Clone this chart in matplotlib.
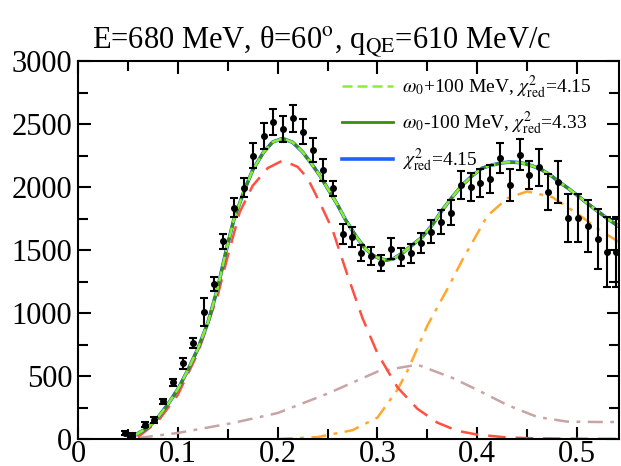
import matplotlib
matplotlib.use("Agg")
import matplotlib.pyplot as plt
import numpy as np

plt.rcParams['font.family'] = ['Liberation Serif', 'DejaVu Serif']
plt.rcParams['mathtext.fontset'] = 'stix'

# ---- data points (omega [GeV], cross section) ----
data_x = [0.047, 0.054, 0.067, 0.076, 0.085, 0.095, 0.105, 0.115, 0.126, 0.136,
          0.145, 0.156, 0.166, 0.175, 0.186, 0.195, 0.205, 0.215, 0.225, 0.235,
          0.245, 0.255, 0.265, 0.275, 0.284, 0.294, 0.304, 0.314, 0.324, 0.334,
          0.344, 0.354, 0.364, 0.374, 0.384, 0.394, 0.403, 0.413, 0.423, 0.433,
          0.443, 0.452, 0.462, 0.471, 0.481, 0.491, 0.501, 0.511, 0.521, 0.530,
          0.539]
data_y = [45, 30, 115, 150, 300, 450, 600, 760, 1010, 1230,
          1570, 1835, 1995, 2250, 2405, 2515, 2460, 2545, 2440, 2295,
          2135, 1990, 1630, 1600, 1475, 1450, 1395, 1510, 1445, 1475,
          1555, 1645, 1720, 1795, 2015, 2000, 2030, 2065, 2230, 2015,
          2255, 2095, 2155, 1960, 2040, 1755, 1755, 1690, 1590, 1485,
          1485]
data_err = [15, 15, 20, 25, 20, 30, 45, 40, 110, 55,
            60, 75, 75, 100, 100, 105, 100, 105, 100, 95,
            85, 60, 80, 80, 65, 70, 65, 85, 70, 75,
            80, 90, 95, 100, 110, 110, 112, 112, 120, 125,
            123, 112, 145, 145, 165, 190, 190, 205, 238, 278,
            280]

# ---- total fit curve ----
fit_x = [0.057, 0.07, 0.08, 0.09, 0.10, 0.11, 0.12, 0.13, 0.14, 0.148, 0.156,
         0.166, 0.175, 0.186, 0.195, 0.205, 0.215, 0.225, 0.233, 0.242, 0.250,
         0.259, 0.268, 0.279, 0.288, 0.296, 0.303, 0.309, 0.316, 0.325, 0.335,
         0.345, 0.355, 0.365, 0.375, 0.385, 0.395, 0.405, 0.415, 0.425, 0.433,
         0.440, 0.448, 0.456, 0.465, 0.474, 0.482, 0.491, 0.500, 0.512, 0.522,
         0.532, 0.545]
fit_y = [30, 90, 170, 275, 395, 545, 715, 920, 1200, 1480, 1738,
         1960, 2135, 2278, 2357, 2385, 2355, 2278, 2195, 2095, 1990,
         1873, 1740, 1603, 1510, 1455, 1430, 1420, 1430, 1476, 1540,
         1603, 1700, 1818, 1920, 2016, 2090, 2150, 2175, 2192, 2198,
         2195, 2185, 2165, 2135, 2090, 2040, 1990, 1935, 1860, 1800,
         1740, 1670]

# ---- quasi-elastic (red dashed) ----
qe_x = [0.06, 0.08, 0.10, 0.12, 0.14, 0.15, 0.162, 0.175, 0.19, 0.205, 0.22,
        0.23, 0.242, 0.255, 0.27, 0.285, 0.30, 0.32, 0.34, 0.36, 0.38, 0.40,
        0.43, 0.46, 0.50, 0.545]
qe_y = [15, 140, 350, 680, 1140, 1450, 1800, 2010, 2150, 2210, 2160,
        2070, 1880, 1660, 1300, 960, 680, 410, 240, 130, 65, 35,
        12, 5, 2, 0]

# ---- Delta (orange dash-dot) ----
dl_x = [0.20, 0.24, 0.275, 0.30, 0.32, 0.33, 0.35, 0.37, 0.385, 0.41, 0.43,
        0.45, 0.475, 0.50, 0.525, 0.545]
dl_y = [0, 15, 70, 170, 390, 540, 900, 1190, 1420, 1770, 1910,
        1965, 1920, 1790, 1645, 1550]

# ---- other contribution (mauve dash-dot) ----
mv_x = [0.06, 0.10, 0.155, 0.20, 0.25, 0.30, 0.34, 0.375, 0.40, 0.43, 0.46,
        0.49, 0.52, 0.545]
mv_y = [8, 48, 127, 206, 360, 535, 590, 485, 390, 270, 175,
        138, 135, 135]

labels = [r"$\omega_0$+100 MeV, $\chi^{2}_{\rm red}$=4.15",
          r"$\omega_0$-100 MeV, $\chi^{2}_{\rm red}$=4.33",
          r"$\chi^{2}_{\rm red}$=4.15"]

fig = plt.figure(figsize=(6.21, 4.66), dpi=100)
ax = fig.add_axes([78/621, 27/466, 541/621, 378/466])

ax.plot(mv_x, mv_y, color='#c8a4a4', lw=1.8, dashes=(6, 3, 1.5, 3))
ax.plot(dl_x, dl_y, color='#ffa830', lw=1.8, dashes=(6, 3, 1.5, 3))
ax.plot(qe_x, qe_y, color='#ff5040', lw=1.8, dashes=(7, 4))

l3, = ax.plot(fit_x, fit_y, color='#2060ff', lw=2.6, label=labels[2])
l2, = ax.plot(fit_x, fit_y, color='#3c8c10', lw=2.0, label=labels[1])
l1, = ax.plot(fit_x, fit_y, color='#88f030', lw=1.8, dashes=(4, 2), label=labels[0])

ax.errorbar(data_x, data_y, yerr=data_err, fmt='o', color='black', ms=4,
            elinewidth=1.5, capsize=3, capthick=1.5, zorder=5)

ax.set_xlim(0, 0.542)
ax.set_ylim(0, 3000)
ax.set_xticks([0, 0.1, 0.2, 0.3, 0.4, 0.5])
ax.set_xticklabels(['0', '0.1', '0.2', '0.3', '0.4', '0.5'])
ax.set_xticks(np.arange(0, 0.55, 0.05), minor=True)
ax.set_yticks([0, 500, 1000, 1500, 2000, 2500, 3000])
ax.set_yticks(np.arange(0, 3001, 250), minor=True)
ax.tick_params(which='both', direction='in', top=True, right=True,
               labelsize=22, width=1.5)
ax.tick_params(axis='y', pad=4)
ax.tick_params(axis='x', pad=1)
ax.tick_params(which='major', length=9)
ax.tick_params(which='minor', length=7)
for s in ax.spines.values():
    s.set_linewidth(1.5)

fig.text(0.518, 0.872, "E=680 MeV, \u03b8=60$^{\\rm o}$, q$_{\\rm QE}$=610 MeV/c",
         fontsize=22, ha='center', va='bottom')

leg = ax.legend(handles=[l1, l2, l3], loc='upper left',
                bbox_to_anchor=(0.465, 1.0), frameon=False, fontsize=14,
                handlelength=2.6, handletextpad=0.5, labelspacing=0.45,
                borderaxespad=0.25)

fig.savefig('out.png', dpi=100)
